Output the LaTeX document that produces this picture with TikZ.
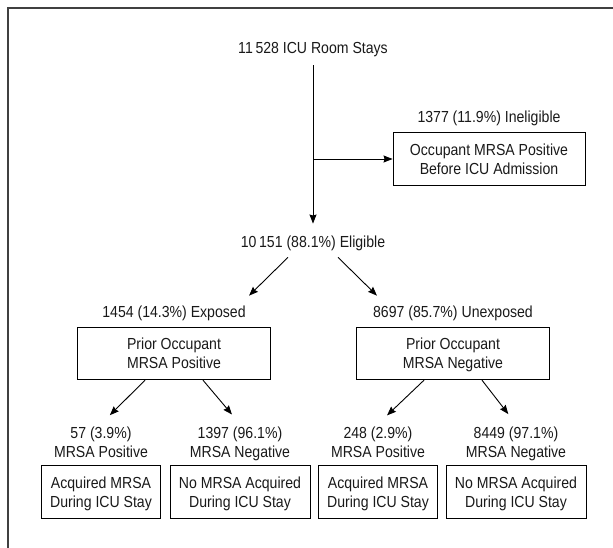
\documentclass[tikz,border=0pt]{standalone}
\usepackage{fontspec}
\setmainfont[FakeStretch=0.88]{Liberation Sans}
\usetikzlibrary{arrows.meta}

\begin{document}
\begin{tikzpicture}[x=1pt, y=-1pt, font=\fontsize{16}{19}\selectfont, text=black!90,
  lbl/.style={inner sep=3pt, text height=11.5pt, text depth=0pt},
  lbltwo/.style={align=center, inner sep=3pt, anchor=north},
  box/.style={draw, line width=0.9pt, align=center, inner xsep=9pt,
    minimum height=52.5pt, text depth=0pt},
  arr/.style={line width=0.9pt, -{Stealth[length=9pt, width=7pt, inset=1pt]}}]
  \useasboundingbox (0,0) rectangle (613,548);
  \draw[line width=1.3pt, black!75] (8,548) -- (8,8) -- (613,8);

  \node[lbl] (stays) at (313,48) {11\,528 ICU Room Stays};
  \node[lbl] (inelig) at (489,117) {1377 (11.9\%) Ineligible};
  \node[box, minimum width=192pt] (before) at (489,159)
    {Occupant MRSA Positive\\Before ICU Admission};
  \node[lbl] (elig) at (313,242) {10\,151 (88.1\%) Eligible};

  \node[lbl] (expo) at (174,312) {1454 (14.3\%) Exposed};
  \node[lbl] (unexpo) at (453,312) {8697 (85.7\%) Unexposed};
  \node[box, minimum width=193pt] (priorpos) at (174,353.5) {Prior Occupant\\MRSA Positive};
  \node[box, minimum width=193pt] (priorneg) at (453,353.5) {Prior Occupant\\MRSA Negative};

  \foreach \cx/\tally/\mrsa/\act [count=\n] in
    {101/57 (3.9\%)/Positive/Acquired MRSA,
     240/1397 (96.1\%)/Negative/No MRSA Acquired,
     378/248 (2.9\%)/Positive/Acquired MRSA,
     516/8449 (97.1\%)/Negative/No MRSA Acquired}{
    \node[lbltwo] (res\n) at (\cx,424) {\tally\\MRSA \mrsa};
    \node[box] (stay\n) at (\cx,492) {\act\\During ICU Stay};
  }

  \draw[arr, shorten <=8.5pt, shorten >=9.5pt] (stays.south) -- (elig.north);
  \draw[arr] (stays.south |- before.west) -- (before.west);

  \draw[arr, shorten <=9.2pt, shorten >=10.6pt] ([xshift=-18.5pt]elig.south) -- ([xshift=67.5pt]expo.north);
  \draw[arr, shorten <=9.2pt, shorten >=10.6pt] ([xshift=18.5pt]elig.south) -- ([xshift=-68.5pt]unexpo.north);

  \draw[arr, shorten >=12.5pt] ([xshift=-29pt]priorpos.south) -- (res1.north);
  \draw[arr, shorten >=12.5pt] ([xshift=29pt]priorpos.south) -- (res2.north);
  \draw[arr, shorten >=12.5pt] ([xshift=-29pt]priorneg.south) -- (res3.north);
  \draw[arr, shorten >=12.5pt] ([xshift=29pt]priorneg.south) -- (res4.north);
\end{tikzpicture}
\end{document}
